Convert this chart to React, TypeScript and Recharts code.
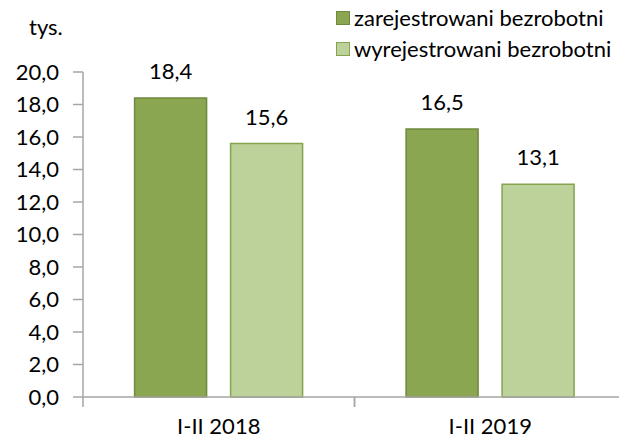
import React from 'react';
import { BarChart, Bar, XAxis, YAxis, LabelList, Legend } from 'recharts';

const categories = ['I-II 2018', 'I-II 2019'];
const registered = [18.4, 16.5];
const deregistered = [15.6, 13.1];
const seriesNames = ['zarejestrowani bezrobotni', 'wyrejestrowani bezrobotni'];
const yTicks = [0, 2, 4, 6, 8, 10, 12, 14, 16, 18, 20];
const unitLabel = 'tys.';

const data = categories.map((c, i) => ({
  category: c,
  registered: registered[i],
  deregistered: deregistered[i],
}));

const FONT = 'Lato, "Open Sans", sans-serif';
const FS = 22;
const DARK = '#8ba651';
const DARK_STROKE = '#70893c';
const LIGHT = '#bdd29b';
const LIGHT_STROKE = '#86a34e';
const AXIS = '#a6a6a6';

const fmt = (v: any) => Number(v).toFixed(1).replace('.', ',');

const XTick = (props: any) => {
  const { x, y, payload } = props;
  const off = payload && payload.offset ? payload.offset : 0;
  return (
    <g>
      <line x1={x - off} x2={x - off} y1={y} y2={y + 10} stroke={AXIS} strokeWidth={1.5} />
      <line x1={x + off} x2={x + off} y1={y} y2={y + 10} stroke={AXIS} strokeWidth={1.5} />
      <text x={x} y={y + 37} textAnchor="middle" fill="#000" fontSize={FS} fontFamily={FONT}>
        {payload.value}
      </text>
    </g>
  );
};

const renderLegend = () => {
  const colors = [
    [DARK, DARK_STROKE],
    [LIGHT, LIGHT_STROKE],
  ];
  return (
    <div style={{ fontFamily: FONT, fontSize: FS, color: '#000' }}>
      {seriesNames.map((n, i) => (
        <div key={n} style={{ display: 'flex', alignItems: 'center', height: 31 }}>
          <span
            style={{
              display: 'inline-block',
              width: 12,
              height: 12,
              background: colors[i][0],
              border: `1.5px solid ${colors[i][1]}`,
              marginRight: 4,
            }}
          />
          <span>{n}</span>
        </div>
      ))}
    </div>
  );
};

export default function App() {
  return (
    <div
      style={{
        position: 'absolute',
        left: 0,
        top: 0,
        width: 619,
        height: 441,
        overflow: 'hidden',
        background: '#fff',
      }}
    >
      <div
        style={{
          position: 'absolute',
          left: 29,
          top: 13,
          fontFamily: FONT,
          fontSize: FS,
          color: '#000',
        }}
      >
        {unitLabel}
      </div>
      <BarChart
        width={640}
        height={441}
        data={data}
        margin={{ top: 72, right: 14, bottom: 0, left: 0 }}
        barCategoryGap="19%"
        barGap={24}
      >
        <Legend
          layout="vertical"
          align="center"
          verticalAlign="middle"
          content={renderLegend}
          wrapperStyle={{ top: 2, left: 336, width: 300, height: 62 }}
        />
        <XAxis
          dataKey="category"
          height={44}
          axisLine={{ stroke: AXIS, strokeWidth: 1.5 }}
          tickLine={false}
          tickSize={0}
          tickMargin={0}
          tick={<XTick />}
          interval={0}
        />
        <YAxis
          width={83}
          domain={[0, 20]}
          ticks={yTicks}
          interval={0}
          tickFormatter={fmt}
          tickSize={10}
          tickMargin={14}
          axisLine={{ stroke: AXIS, strokeWidth: 1.5 }}
          tickLine={{ stroke: AXIS, strokeWidth: 1.5 }}
          tick={{ fill: '#000', fontSize: FS, fontFamily: FONT }}
        />
        <Bar
          dataKey="registered"
          name={seriesNames[0]}
          fill={DARK}
          stroke={DARK_STROKE}
          strokeWidth={1.5}
          isAnimationActive={false}
        >
          <LabelList
            dataKey="registered"
            position="top"
            offset={19}
            formatter={fmt}
            fill="#000"
            fontSize={FS}
            fontFamily={FONT}
          />
        </Bar>
        <Bar
          dataKey="deregistered"
          name={seriesNames[1]}
          fill={LIGHT}
          stroke={LIGHT_STROKE}
          strokeWidth={1.5}
          isAnimationActive={false}
        >
          <LabelList
            dataKey="deregistered"
            position="top"
            offset={19}
            formatter={fmt}
            fill="#000"
            fontSize={FS}
            fontFamily={FONT}
          />
        </Bar>
      </BarChart>
    </div>
  );
}
